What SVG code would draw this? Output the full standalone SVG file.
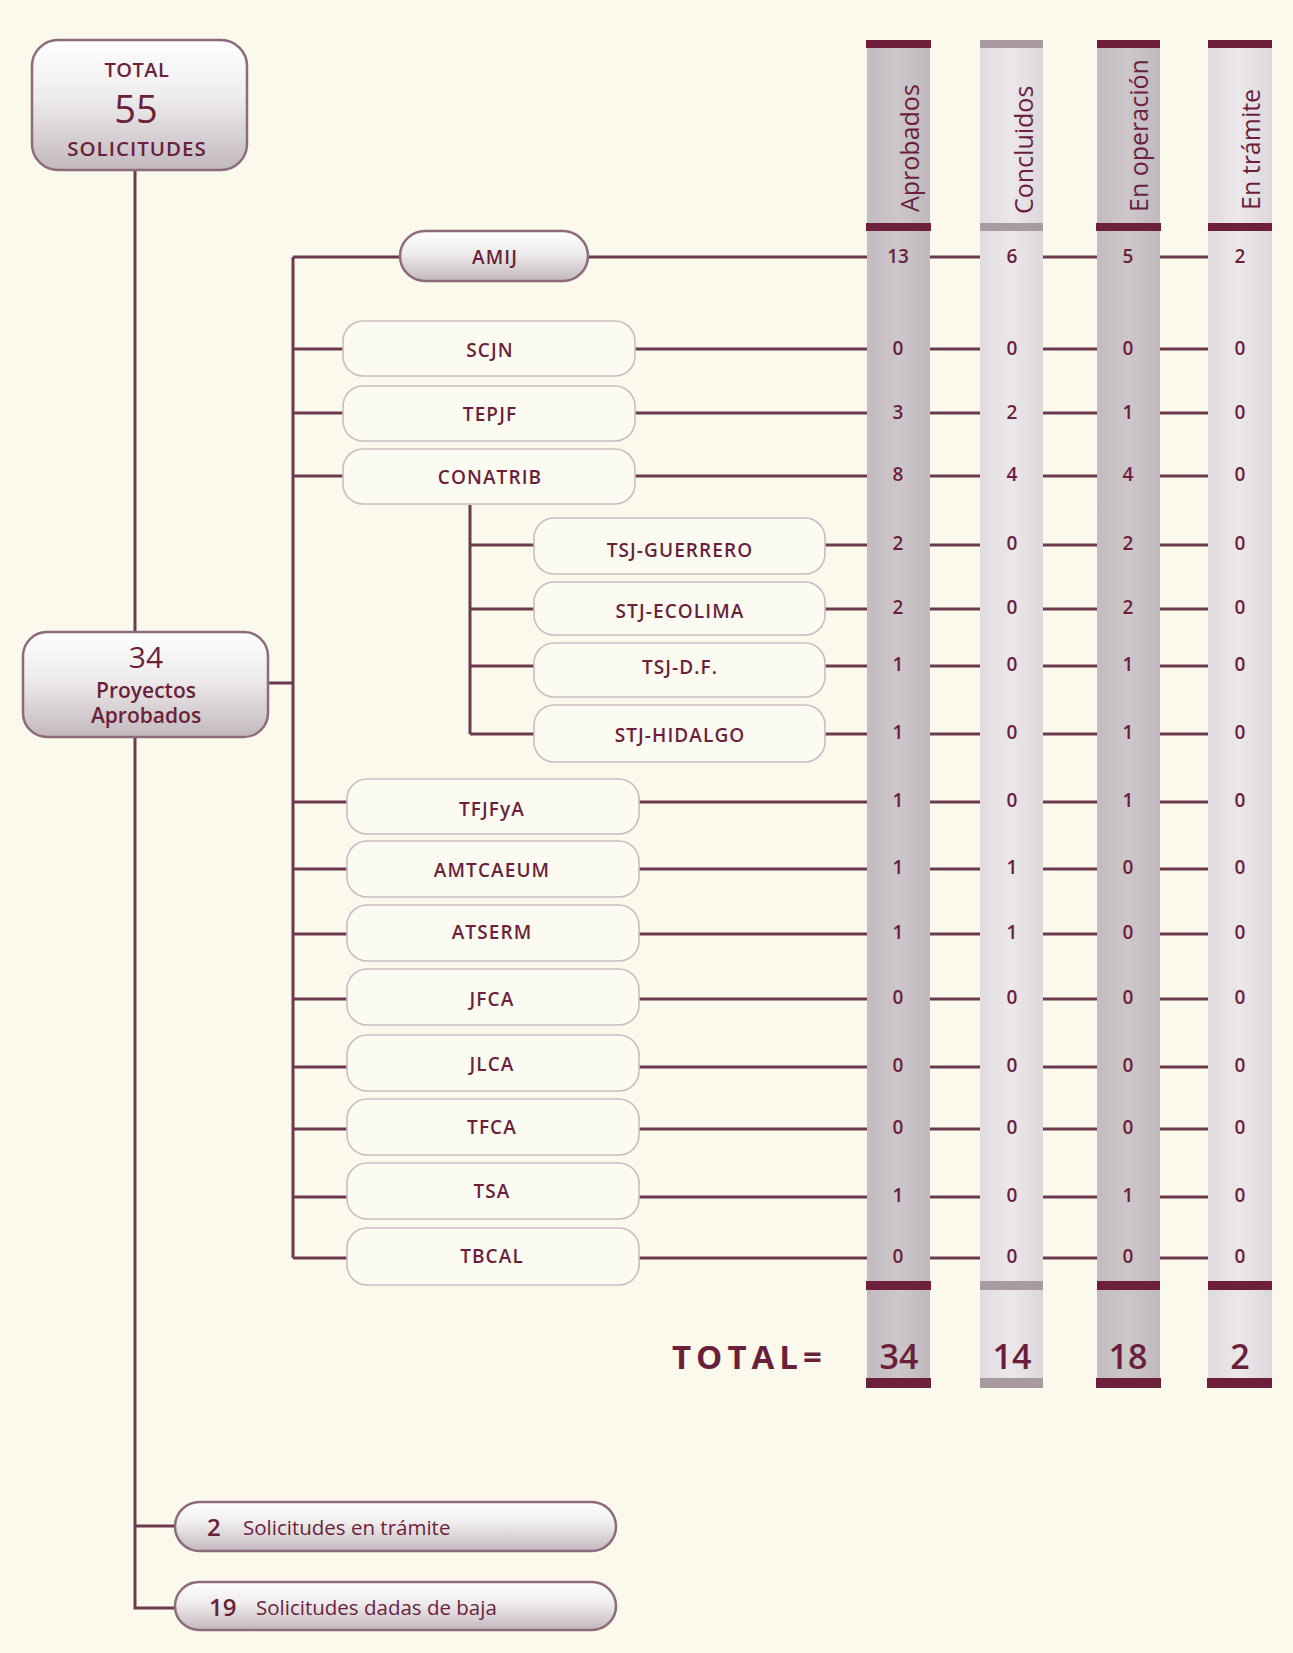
<svg xmlns="http://www.w3.org/2000/svg" width="1293" height="1653" viewBox="0 0 1293 1653">
<defs>
<linearGradient id="pill" x1="0" y1="0" x2="0" y2="1">
<stop offset="0" stop-color="#ffffff"/>
<stop offset="0.45" stop-color="#eeebec"/>
<stop offset="1" stop-color="#c2b8be"/>
</linearGradient>
<linearGradient id="colDark" x1="0" y1="0" x2="1" y2="0">
<stop offset="0" stop-color="#c2bbc0"/>
<stop offset="0.5" stop-color="#cdc7cb"/>
<stop offset="1" stop-color="#bfb8bd"/>
</linearGradient>
<linearGradient id="colLight" x1="0" y1="0" x2="1" y2="0">
<stop offset="0" stop-color="#e0dbdf"/>
<stop offset="0.5" stop-color="#ebe7ea"/>
<stop offset="1" stop-color="#dcd7db"/>
</linearGradient>
<style>
.t{font-family:"Open Sans","Noto Sans","DejaVu Sans",sans-serif;fill:#6a1f3b;}
.lbl{font-size:19px;font-weight:600;text-anchor:middle;letter-spacing:1.1px;}
.num{font-size:19px;font-weight:600;text-anchor:middle;}
.hdr{font-size:25px;font-weight:400;}
.tot{font-size:34px;font-weight:600;text-anchor:middle;}
.ln{stroke:#6b3a4f;stroke-width:3;fill:none;}
.wbox{fill:#fcfbf1;stroke:#cbbcc4;stroke-width:1.6;}
.gbox{fill:url(#pill);stroke:#8c6b7a;stroke-width:2.5;}
.barM{fill:#6d1f3c;}
.barG{fill:#a99aa2;}
</style>
</defs>
<rect x="0" y="0" width="1293" height="1653" fill="#fbf9eb"/>

<!-- columns -->
<g id="columns">
<rect x="867" y="40" width="63" height="1348" fill="url(#colDark)"/>
<rect x="980" y="40" width="63" height="1348" fill="url(#colLight)"/>
<rect x="1097" y="40" width="63" height="1348" fill="url(#colDark)"/>
<rect x="1208" y="40" width="64" height="1348" fill="url(#colLight)"/>
<rect class="barM" x="866" y="40" width="65" height="8"/>
<rect class="barG" x="980" y="40" width="63" height="8"/>
<rect class="barM" x="1097" y="40" width="63" height="8"/>
<rect class="barM" x="1208" y="40" width="64" height="8"/>
<rect class="barM" x="866" y="223" width="65" height="8"/>
<rect class="barG" x="980" y="223" width="63" height="8"/>
<rect class="barM" x="1096" y="223" width="65" height="8"/>
<rect class="barM" x="1208" y="223" width="64" height="8"/>
<rect class="barM" x="866" y="1281" width="65" height="9"/>
<rect class="barG" x="980" y="1281" width="63" height="9"/>
<rect class="barM" x="1097" y="1281" width="63" height="9"/>
<rect class="barM" x="1208" y="1281" width="64" height="9"/>
<rect class="barM" x="866" y="1378" width="65" height="10"/>
<rect class="barG" x="980" y="1378" width="63" height="10"/>
<rect class="barM" x="1096" y="1378" width="65" height="10"/>
<rect class="barM" x="1207" y="1378" width="65" height="10"/>
<text class="t hdr" transform="translate(919,212) rotate(-90)">Aprobados</text>
<text class="t hdr" transform="translate(1033,214) rotate(-90)">Concluidos</text>
<text class="t hdr" transform="translate(1148,212) rotate(-90)">En operación</text>
<text class="t hdr" transform="translate(1260,210) rotate(-90)">En trámite</text>
</g>

<!-- connectors -->
<g id="connectors" class="ln">
<path d="M135 170 V632 M135 737 V1608 H175 M135 1526 H175"/>
<path d="M268 683 H293 M293 257 V1258"/>
<path d="M293 257 H400 M588 257 H867"/>
<path d="M293 349 H343 M635 349 H867"/>
<path d="M293 413 H343 M635 413 H867"/>
<path d="M293 476 H343 M635 476 H867"/>
<path d="M470 505 V734"/>
<path d="M470 545 H534 M825 545 H867"/>
<path d="M470 609 H534 M825 609 H867"/>
<path d="M470 666 H534 M825 666 H867"/>
<path d="M470 734 H534 M825 734 H867"/>
<path d="M293 802 H347 M639 802 H867"/>
<path d="M293 869 H347 M639 869 H867"/>
<path d="M293 934 H347 M639 934 H867"/>
<path d="M293 999 H347 M639 999 H867"/>
<path d="M293 1067 H347 M639 1067 H867"/>
<path d="M293 1129 H347 M639 1129 H867"/>
<path d="M293 1197 H347 M639 1197 H867"/>
<path d="M293 1258 H347 M639 1258 H867"/>
<path d="M930 257 H980 M1043 257 H1097 M1160 257 H1208"/>
<path d="M930 349 H980 M1043 349 H1097 M1160 349 H1208"/>
<path d="M930 413 H980 M1043 413 H1097 M1160 413 H1208"/>
<path d="M930 476 H980 M1043 476 H1097 M1160 476 H1208"/>
<path d="M930 545 H980 M1043 545 H1097 M1160 545 H1208"/>
<path d="M930 609 H980 M1043 609 H1097 M1160 609 H1208"/>
<path d="M930 666 H980 M1043 666 H1097 M1160 666 H1208"/>
<path d="M930 734 H980 M1043 734 H1097 M1160 734 H1208"/>
<path d="M930 802 H980 M1043 802 H1097 M1160 802 H1208"/>
<path d="M930 869 H980 M1043 869 H1097 M1160 869 H1208"/>
<path d="M930 934 H980 M1043 934 H1097 M1160 934 H1208"/>
<path d="M930 999 H980 M1043 999 H1097 M1160 999 H1208"/>
<path d="M930 1067 H980 M1043 1067 H1097 M1160 1067 H1208"/>
<path d="M930 1129 H980 M1043 1129 H1097 M1160 1129 H1208"/>
<path d="M930 1197 H980 M1043 1197 H1097 M1160 1197 H1208"/>
<path d="M930 1258 H980 M1043 1258 H1097 M1160 1258 H1208"/>
</g>

<!-- main nodes -->
<g id="total">
<rect class="gbox" x="32" y="40" width="215" height="130" rx="26"/>
<text class="t" x="137" y="77" font-size="20" font-weight="600" text-anchor="middle" letter-spacing="0.5">TOTAL</text>
<text class="t" x="136" y="123" font-size="38" font-weight="400" text-anchor="middle">55</text>
<text class="t" x="137" y="156" font-size="20.5" font-weight="600" text-anchor="middle" letter-spacing="1">SOLICITUDES</text>
</g>
<g id="proyectos">
<rect class="gbox" x="23" y="632" width="245" height="105" rx="24"/>
<text class="t" x="146" y="668" font-size="30" font-weight="400" text-anchor="middle">34</text>
<text class="t" x="146" y="698" font-size="21" font-weight="600" text-anchor="middle">Proyectos</text>
<text class="t" x="146" y="723" font-size="21" font-weight="600" text-anchor="middle">Aprobados</text>
</g>
<g id="amij">
<rect class="gbox" x="400" y="231" width="188" height="50" rx="25"/>
<text class="t lbl" x="495" y="264">AMIJ</text>
</g>
<g id="scjn"><rect class="wbox" x="343" y="321" width="292" height="55" rx="20"/><text class="t lbl" x="490" y="357">SCJN</text></g>
<g id="tepjf"><rect class="wbox" x="343" y="386" width="292" height="55" rx="20"/><text class="t lbl" x="490" y="421">TEPJF</text></g>
<g id="conatrib"><rect class="wbox" x="343" y="449" width="292" height="55" rx="20"/><text class="t lbl" x="490" y="484">CONATRIB</text></g>
<g id="tsj-guerrero"><rect class="wbox" x="534" y="518" width="291" height="56" rx="20"/><text class="t lbl" x="680" y="557">TSJ-GUERRERO</text></g>
<g id="stj-ecolima"><rect class="wbox" x="534" y="582" width="291" height="53" rx="20"/><text class="t lbl" x="680" y="618">STJ-ECOLIMA</text></g>
<g id="tsj-df"><rect class="wbox" x="534" y="643" width="291" height="54" rx="20"/><text class="t lbl" x="680" y="674">TSJ-D.F.</text></g>
<g id="stj-hidalgo"><rect class="wbox" x="534" y="705" width="291" height="57" rx="20"/><text class="t lbl" x="680" y="742">STJ-HIDALGO</text></g>
<g id="tfjfya"><rect class="wbox" x="347" y="779" width="292" height="55" rx="20"/><text class="t lbl" x="492" y="816">TFJFyA</text></g>
<g id="amtcaeum"><rect class="wbox" x="347" y="841" width="292" height="56" rx="20"/><text class="t lbl" x="492" y="877">AMTCAEUM</text></g>
<g id="atserm"><rect class="wbox" x="347" y="905" width="292" height="56" rx="20"/><text class="t lbl" x="492" y="939">ATSERM</text></g>
<g id="jfca"><rect class="wbox" x="347" y="969" width="292" height="56" rx="20"/><text class="t lbl" x="492" y="1006">JFCA</text></g>
<g id="jlca"><rect class="wbox" x="347" y="1035" width="292" height="56" rx="20"/><text class="t lbl" x="492" y="1071">JLCA</text></g>
<g id="tfca"><rect class="wbox" x="347" y="1099" width="292" height="56" rx="20"/><text class="t lbl" x="492" y="1134">TFCA</text></g>
<g id="tsa"><rect class="wbox" x="347" y="1163" width="292" height="56" rx="20"/><text class="t lbl" x="492" y="1198">TSA</text></g>
<g id="tbcal"><rect class="wbox" x="347" y="1228" width="292" height="57" rx="20"/><text class="t lbl" x="492" y="1263">TBCAL</text></g>

<g id="en-tramite">
<rect class="gbox" x="175" y="1502" width="441" height="49" rx="24.5"/>
<text class="t" x="207" y="1536" font-size="24" font-weight="600">2</text>
<text class="t" x="243" y="1535" font-size="20.5" font-weight="400">Solicitudes en trámite</text>
</g>
<g id="dadas-de-baja">
<rect class="gbox" x="175" y="1582" width="441" height="48" rx="24"/>
<text class="t" x="209" y="1616" font-size="24" font-weight="600">19</text>
<text class="t" x="256" y="1615" font-size="20.5" font-weight="400">Solicitudes dadas de baja</text>
</g>

<!-- values -->
<g id="values" class="t num">
<text x="898" y="263">13</text><text x="1012" y="263">6</text><text x="1128" y="263">5</text><text x="1240" y="263">2</text>
<text x="898" y="355">0</text><text x="1012" y="355">0</text><text x="1128" y="355">0</text><text x="1240" y="355">0</text>
<text x="898" y="419">3</text><text x="1012" y="419">2</text><text x="1128" y="419">1</text><text x="1240" y="419">0</text>
<text x="898" y="481">8</text><text x="1012" y="481">4</text><text x="1128" y="481">4</text><text x="1240" y="481">0</text>
<text x="898" y="550">2</text><text x="1012" y="550">0</text><text x="1128" y="550">2</text><text x="1240" y="550">0</text>
<text x="898" y="614">2</text><text x="1012" y="614">0</text><text x="1128" y="614">2</text><text x="1240" y="614">0</text>
<text x="898" y="671">1</text><text x="1012" y="671">0</text><text x="1128" y="671">1</text><text x="1240" y="671">0</text>
<text x="898" y="739">1</text><text x="1012" y="739">0</text><text x="1128" y="739">1</text><text x="1240" y="739">0</text>
<text x="898" y="807">1</text><text x="1012" y="807">0</text><text x="1128" y="807">1</text><text x="1240" y="807">0</text>
<text x="898" y="874">1</text><text x="1012" y="874">1</text><text x="1128" y="874">0</text><text x="1240" y="874">0</text>
<text x="898" y="939">1</text><text x="1012" y="939">1</text><text x="1128" y="939">0</text><text x="1240" y="939">0</text>
<text x="898" y="1004">0</text><text x="1012" y="1004">0</text><text x="1128" y="1004">0</text><text x="1240" y="1004">0</text>
<text x="898" y="1072">0</text><text x="1012" y="1072">0</text><text x="1128" y="1072">0</text><text x="1240" y="1072">0</text>
<text x="898" y="1134">0</text><text x="1012" y="1134">0</text><text x="1128" y="1134">0</text><text x="1240" y="1134">0</text>
<text x="898" y="1202">1</text><text x="1012" y="1202">0</text><text x="1128" y="1202">1</text><text x="1240" y="1202">0</text>
<text x="898" y="1263">0</text><text x="1012" y="1263">0</text><text x="1128" y="1263">0</text><text x="1240" y="1263">0</text>
</g>

<g id="totals">
<text class="t" x="672" y="1369" font-size="33" font-weight="700" letter-spacing="5">TOTAL=</text>
<text class="t tot" x="899" y="1369">34</text>
<text class="t tot" x="1012" y="1369">14</text>
<text class="t tot" x="1128" y="1369">18</text>
<text class="t tot" x="1240" y="1369">2</text>
</g>
</svg>
